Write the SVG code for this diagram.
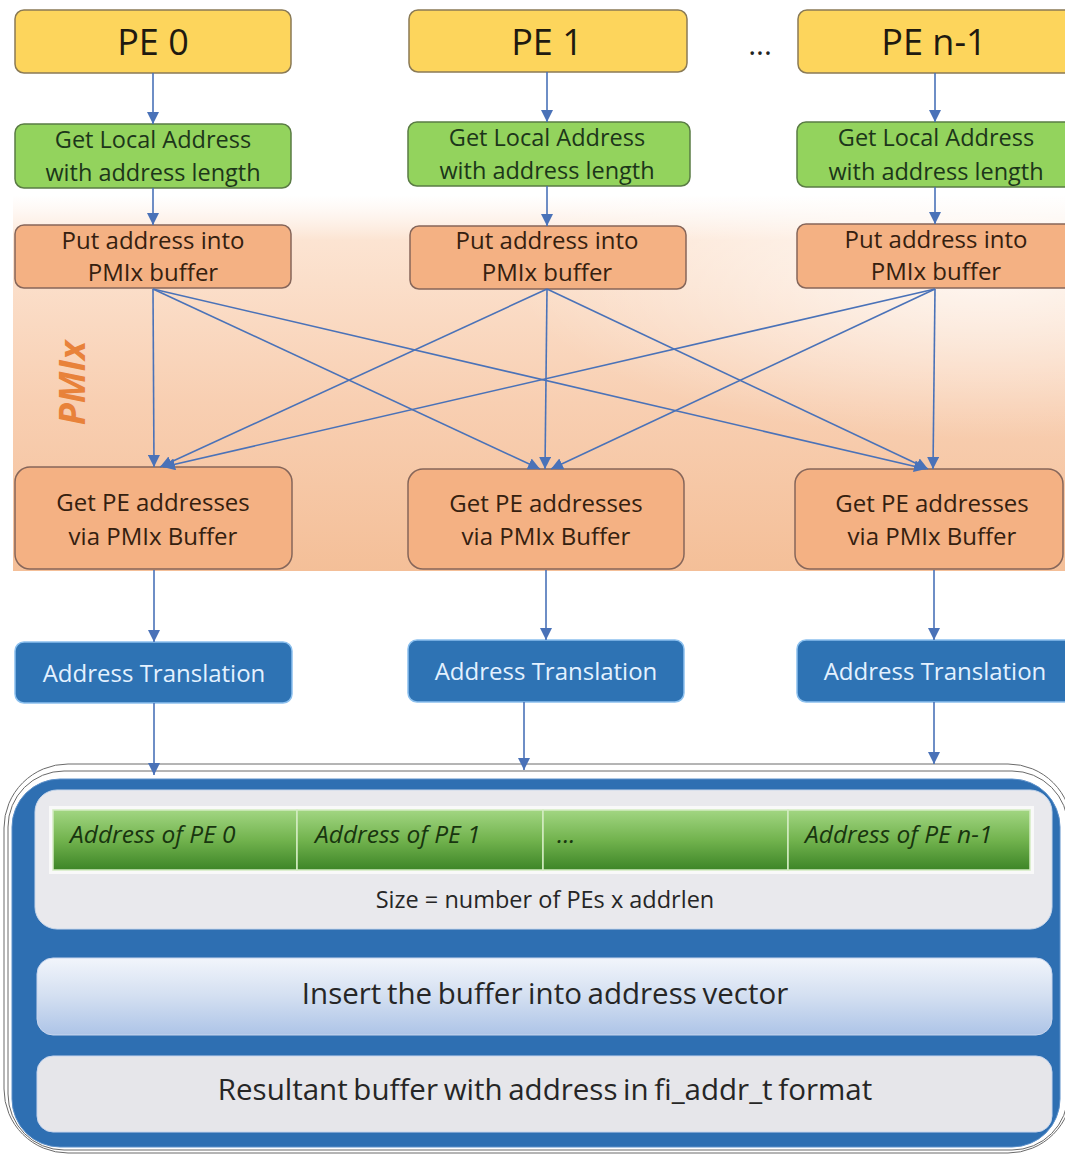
<svg xmlns="http://www.w3.org/2000/svg" width="1065" height="1154" viewBox="0 0 1065 1154">
  <defs>
    <style>
      .t { font-family: "Open Sans", "Noto Sans", "DejaVu Sans", sans-serif; text-anchor: middle; }
      .pe { fill: #fdd55c; stroke: #8a7a55; stroke-width: 1.5; }
      .pe-t { font-size: 36px; fill: #1f1a10; }
      .loc { fill: #93d35d; stroke: #5a7c44; stroke-width: 1.5; }
      .loc-t { font-size: 23.5px; fill: #1c361a; }
      .pmix { fill: #f4b183; stroke: #86665a; stroke-width: 1.5; }
      .pmix-t { font-size: 24px; fill: #35200f; }
      .xl { fill: #2e73b4; stroke: #8cc0ee; stroke-width: 1.5; }
      .xl-t { font-size: 24px; fill: #e3f1ff; }
      .conn { stroke: #4a72b8; stroke-width: 1.6; fill: none; marker-end: url(#arr); }
      .cell { fill: url(#cellFill); stroke: #d4ebc2; stroke-width: 1.5; }
      .cell-t { font-family: "Open Sans", "Noto Sans", sans-serif; font-style: italic; font-size: 24.5px; fill: #18350f; }
      .rim { fill: none; stroke: #6a6a6a; stroke-width: 1; }
      .big-t { font-size: 29.5px; fill: #262626; word-spacing: -2px; }
    </style>
    <marker id="arr" viewBox="0 0 10 10" refX="10" refY="5" markerWidth="12" markerHeight="12" markerUnits="userSpaceOnUse" orient="auto">
      <path d="M0,0 L10,5 L0,10 z" fill="#4a72b8"/>
    </marker>
    <linearGradient id="bandFill" x1="0" y1="0" x2="0" y2="1">
      <stop offset="0" stop-color="#fdeee4" stop-opacity="0"/>
      <stop offset="0.12" stop-color="#fce4d2"/>
      <stop offset="0.55" stop-color="#f8cfb2"/>
      <stop offset="1" stop-color="#f4bf98"/>
    </linearGradient>
    <radialGradient id="bandGlow" cx="0.92" cy="0.2" r="0.45">
      <stop offset="0" stop-color="#ffffff" stop-opacity="0.75"/>
      <stop offset="1" stop-color="#ffffff" stop-opacity="0"/>
    </radialGradient>
    <linearGradient id="cellFill" x1="0" y1="0" x2="0" y2="1">
      <stop offset="0" stop-color="#a2d682"/>
      <stop offset="0.5" stop-color="#72b34e"/>
      <stop offset="1" stop-color="#3d8527"/>
    </linearGradient>
    <linearGradient id="insertFill" x1="0" y1="0" x2="0" y2="1">
      <stop offset="0" stop-color="#f2f5fb"/>
      <stop offset="0.5" stop-color="#d3dff1"/>
      <stop offset="1" stop-color="#adc4e7"/>
    </linearGradient>
  </defs>

  <rect width="1065" height="1154" fill="#ffffff"/>

  <!-- PMIx exchange band -->
  <g id="pmix-band">
    <rect x="13" y="195" width="1060" height="376" fill="url(#bandFill)"/>
    <rect x="13" y="195" width="1060" height="376" fill="url(#bandGlow)"/>
    <text class="t" transform="translate(85,383) rotate(-90)" font-size="36" font-weight="bold" font-style="italic" fill="#e8823a">PMIx</text>
  </g>

  <!-- processing elements -->
  <g id="pe0">
    <rect class="pe" x="15" y="10" width="276" height="63" rx="9"/>
    <text class="t pe-t" x="153" y="55">PE 0</text>
  </g>
  <g id="pe1">
    <rect class="pe" x="409" y="10" width="278" height="62" rx="9"/>
    <text class="t pe-t" x="547" y="55">PE 1</text>
  </g>
  <g id="pe-ellipsis">
    <text class="t" x="760" y="55" font-size="30" fill="#222">...</text>
  </g>
  <g id="pen1">
    <rect class="pe" x="798" y="10" width="280" height="63" rx="9"/>
    <text class="t pe-t" x="934" y="55">PE n-1</text>
  </g>

  <g id="local0">
    <rect class="loc" x="15" y="124" width="276" height="64" rx="9"/>
    <text class="t loc-t" x="153" y="148">Get Local Address</text>
    <text class="t loc-t" x="153" y="181">with address length</text>
  </g>
  <g id="local1">
    <rect class="loc" x="408" y="122" width="282" height="64" rx="9"/>
    <text class="t loc-t" x="547" y="146">Get Local Address</text>
    <text class="t loc-t" x="547" y="179">with address length</text>
  </g>
  <g id="localn1">
    <rect class="loc" x="797" y="122" width="280" height="65" rx="9"/>
    <text class="t loc-t" x="936" y="146">Get Local Address</text>
    <text class="t loc-t" x="936" y="180">with address length</text>
  </g>

  <g id="put0">
    <rect class="pmix" x="15" y="225" width="276" height="63" rx="9"/>
    <text class="t pmix-t" x="153" y="249">Put address into</text>
    <text class="t pmix-t" x="153" y="281">PMIx buffer</text>
  </g>
  <g id="put1">
    <rect class="pmix" x="410" y="226" width="276" height="63" rx="9"/>
    <text class="t pmix-t" x="547" y="249">Put address into</text>
    <text class="t pmix-t" x="547" y="281">PMIx buffer</text>
  </g>
  <g id="putn1">
    <rect class="pmix" x="797" y="224" width="280" height="64" rx="9"/>
    <text class="t pmix-t" x="936" y="248">Put address into</text>
    <text class="t pmix-t" x="936" y="280">PMIx buffer</text>
  </g>

  <g id="get0">
    <rect class="pmix" x="15" y="467" width="277" height="102" rx="15"/>
    <text class="t pmix-t" x="153" y="511">Get PE addresses</text>
    <text class="t pmix-t" x="153" y="545">via PMIx Buffer</text>
  </g>
  <g id="get1">
    <rect class="pmix" x="408" y="469" width="276" height="100" rx="15"/>
    <text class="t pmix-t" x="546" y="512">Get PE addresses</text>
    <text class="t pmix-t" x="546" y="545">via PMIx Buffer</text>
  </g>
  <g id="getn1">
    <rect class="pmix" x="795" y="469" width="268" height="100" rx="15"/>
    <text class="t pmix-t" x="932" y="512">Get PE addresses</text>
    <text class="t pmix-t" x="932" y="545">via PMIx Buffer</text>
  </g>

  <g id="xlate0">
    <rect class="xl" x="15" y="642" width="277" height="61" rx="9"/>
    <text class="t xl-t" x="154" y="682">Address Translation</text>
  </g>
  <g id="xlate1">
    <rect class="xl" x="408" y="640" width="276" height="62" rx="9"/>
    <text class="t xl-t" x="546" y="680">Address Translation</text>
  </g>
  <g id="xlaten1">
    <rect class="xl" x="797" y="640" width="280" height="62" rx="9"/>
    <text class="t xl-t" x="935" y="680">Address Translation</text>
  </g>

  <!-- address vector container -->
  <g id="address-vector">
    <rect class="rim" x="4" y="764" width="1068" height="389" rx="64"/>
    <rect class="rim" x="8" y="771" width="1060" height="379" rx="56"/>
    <rect x="12" y="779" width="1048" height="368" rx="48" fill="#2e6fb2" stroke="#5c90c9" stroke-width="1"/>

    <g id="pe-buffer">
      <rect x="35" y="790" width="1017" height="139" rx="22" fill="#e9e9ed" stroke="#c9d8ec" stroke-width="1"/>
      <rect x="49" y="806" width="985" height="68" fill="#f9f9f9"/>
      <rect class="cell" x="53" y="810" width="244" height="60"/>
      <rect class="cell" x="297" y="810" width="246" height="60"/>
      <rect class="cell" x="543" y="810" width="245" height="60"/>
      <rect class="cell" x="788" y="810" width="242" height="60"/>
      <text class="cell-t" x="70" y="843">Address of PE 0</text>
      <text class="cell-t" x="315" y="843">Address of PE 1</text>
      <text class="cell-t" x="557" y="843">...</text>
      <text class="cell-t" x="805" y="843">Address of PE n-1</text>
      <text class="t" x="545" y="908" font-size="23.5" fill="#262626">Size = number  of PEs x addrlen</text>
    </g>

    <g id="insert-step">
      <rect x="37" y="958" width="1015" height="77" rx="16" fill="url(#insertFill)" stroke="#c8d6ee" stroke-width="1"/>
      <text class="t big-t" x="545" y="1004">Insert the buffer into address vector</text>
    </g>

    <g id="result-step">
      <rect x="37" y="1056" width="1015" height="76" rx="16" fill="#e6e6ea" stroke="#c8d6ee" stroke-width="1"/>
      <text class="t big-t" x="545" y="1100">Resultant buffer with address in fi_addr_t format</text>
    </g>
  </g>

  <!-- connectors -->
  <g id="connectors">
    <line class="conn" x1="153" y1="73" x2="153" y2="124"/>
    <line class="conn" x1="547" y1="72" x2="547" y2="122"/>
    <line class="conn" x1="935" y1="73" x2="935" y2="122"/>

    <line class="conn" x1="153" y1="188" x2="153" y2="225"/>
    <line class="conn" x1="547" y1="186" x2="547" y2="226"/>
    <line class="conn" x1="935" y1="187" x2="935" y2="224"/>

    <line class="conn" x1="153" y1="289" x2="154" y2="467"/>
    <line class="conn" x1="547" y1="289" x2="160" y2="467"/>
    <line class="conn" x1="935" y1="289" x2="163" y2="467"/>
    <line class="conn" x1="153" y1="289" x2="540" y2="469"/>
    <line class="conn" x1="547" y1="289" x2="545" y2="469"/>
    <line class="conn" x1="935" y1="289" x2="551" y2="469"/>
    <line class="conn" x1="153" y1="289" x2="926" y2="469"/>
    <line class="conn" x1="547" y1="289" x2="928" y2="469"/>
    <line class="conn" x1="935" y1="289" x2="933" y2="469"/>

    <line class="conn" x1="154" y1="570" x2="154" y2="642"/>
    <line class="conn" x1="546" y1="570" x2="546" y2="640"/>
    <line class="conn" x1="934" y1="570" x2="934" y2="640"/>

    <line class="conn" x1="154" y1="703" x2="154" y2="775"/>
    <line class="conn" x1="524" y1="702" x2="524" y2="770"/>
    <line class="conn" x1="934" y1="702" x2="934" y2="764"/>
  </g>
</svg>
